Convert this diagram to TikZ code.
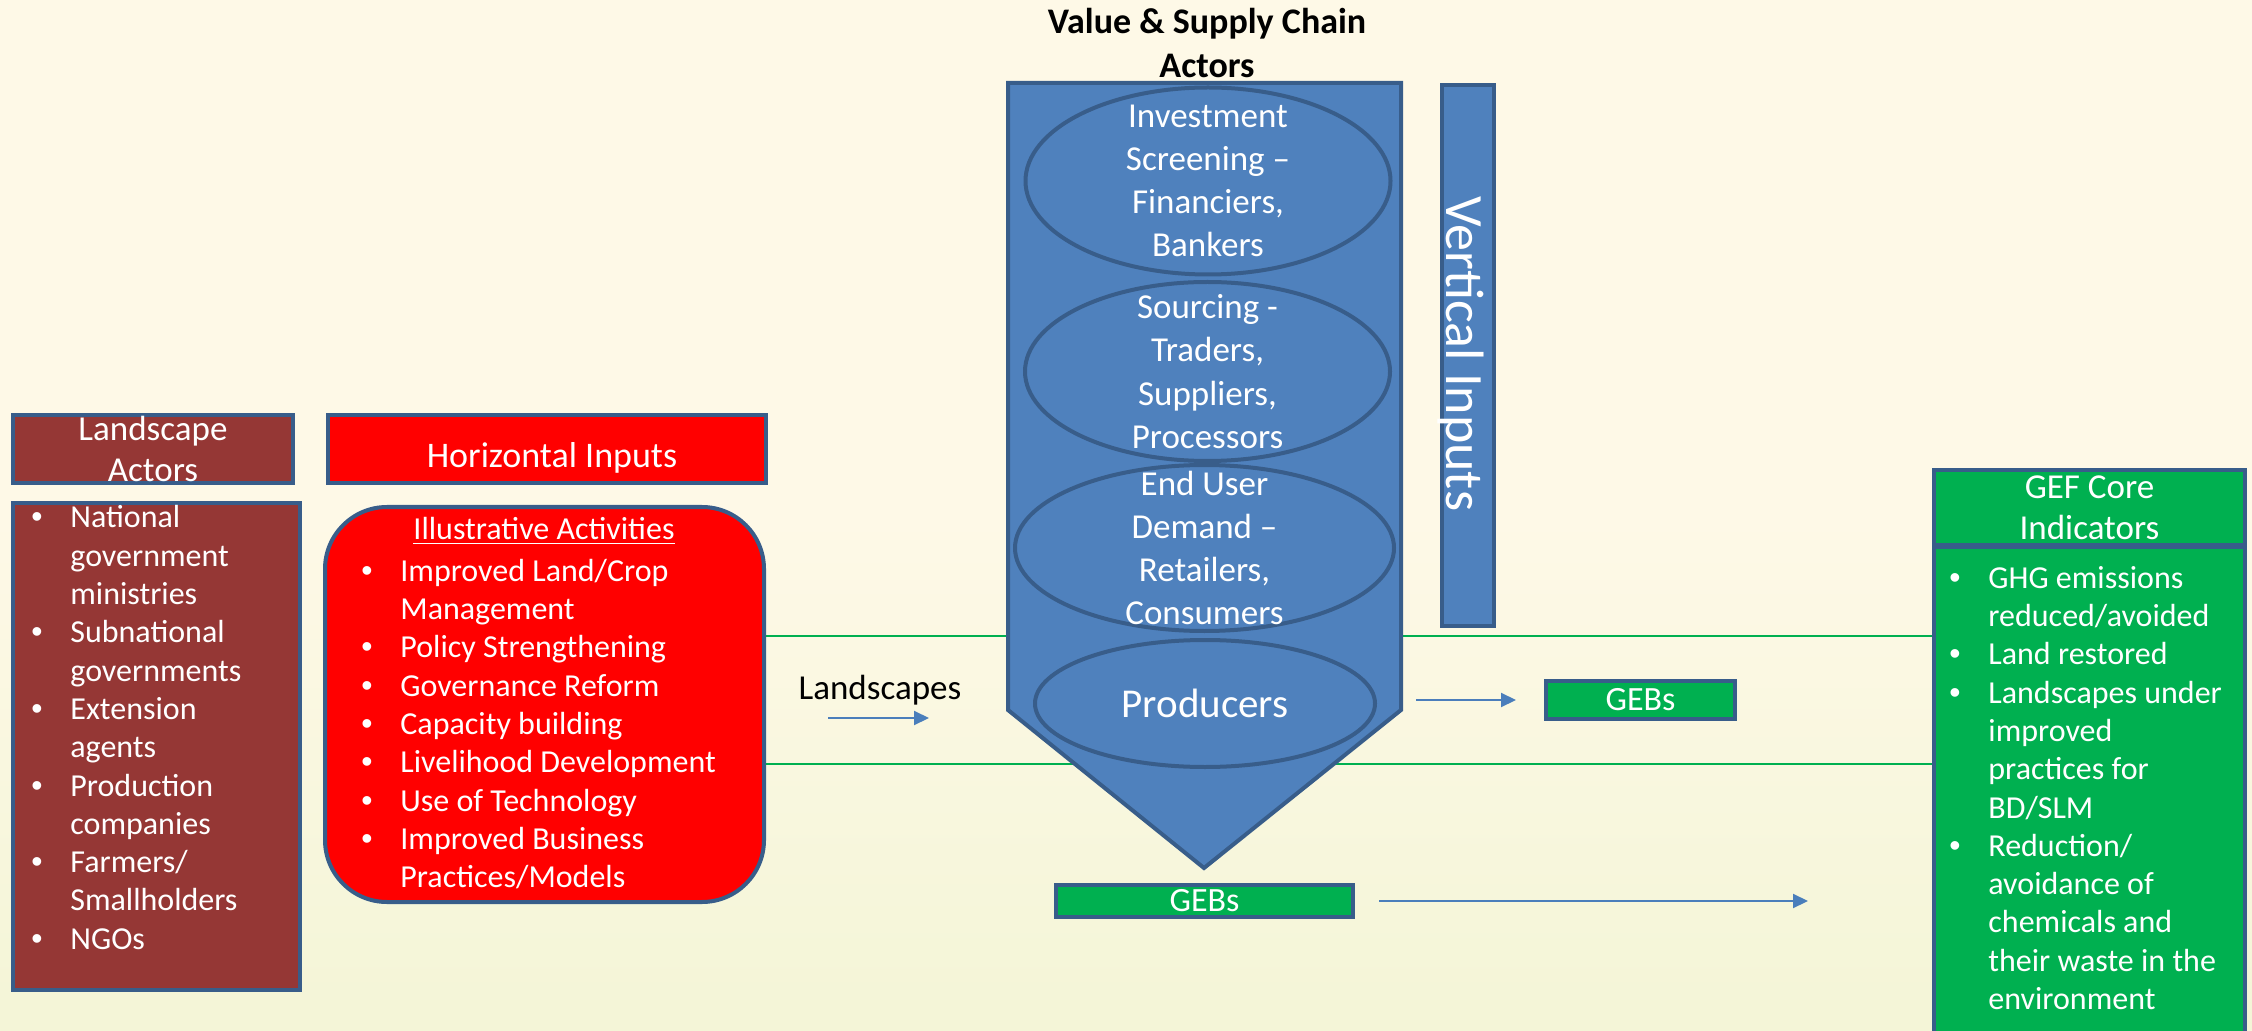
\documentclass[tikz,border=0pt]{standalone}
\usepackage{fontspec}
\setmainfont{Carlito}
\newfontfamily\bulletfont{Liberation Sans}
\usetikzlibrary{shapes.geometric,arrows.meta}

\definecolor{bgtop}{HTML}{FEF9E7}
\definecolor{bgbot}{HTML}{E9F1C6}
\definecolor{chainblue}{HTML}{4F81BD}
\definecolor{edgeblue}{HTML}{385D8A}
\definecolor{flowblue}{HTML}{4A7EBB}
\definecolor{actorred}{HTML}{953735}
\definecolor{inputred}{HTML}{FF0000}
\definecolor{gefgreen}{HTML}{00B050}

\pgfdeclareverticalshading{bgfade}{100bp}{color(0bp)=(bgbot); color(50bp)=(bgtop); color(100bp)=(bgtop)}

\newcommand{\bitem}{\llap{\makebox[17pt][l]{\hspace{-2.5pt}{\bulletfont\textbullet}}}}

\begin{document}
\begin{tikzpicture}[x=0.5pt,y=-0.5pt,
    framebox/.style={draw=edgeblue, line width=2pt, inner sep=0pt},
    actorbox/.style={framebox, fill=actorred},
    inputbox/.style={framebox, fill=inputred},
    gefbox/.style={framebox, fill=gefgreen},
    chainbox/.style={framebox, fill=chainblue},
    stage/.style={ellipse, draw=edgeblue, line width=2pt, fill=chainblue, inner sep=0pt},
    boxtext/.style={text=white, align=center, font=\fontsize{17.5}{20.6}\selectfont},
    stagetext/.style={text=white, align=center, font=\fontsize{17.5}{21.6}\selectfont},
    listtext/.style={text=white, align=left, anchor=west, inner sep=0pt, font=\fontsize{16}{19.15}\selectfont},
    band/.style={draw=gefgreen, line width=1pt},
    flow/.style={draw=flowblue, line width=1pt, -{Triangle[length=7.5pt,width=7pt]}}]

  \useasboundingbox (0,0) rectangle (2252,1031);
  \shade[shading=bgfade] (0,0) rectangle (2252,1031);
  \clip (0,0) rectangle (2252,1031);

  % landscape side
  \node[actorbox, minimum width=140pt, minimum height=34pt] (lahdr) at (153,449) {};
  \node[actorbox, minimum width=143.5pt, minimum height=243.5pt] (lalist) at (156.5,746.5) {};
  \node[inputbox, minimum width=219pt, minimum height=34pt] (hin) at (547,449) {};
  \node[inputbox, rounded corners=31pt, minimum width=219.5pt, minimum height=197.5pt] (illus) at (544.5,704.5) {};

  % indicators side
  \node[gefbox, minimum width=155.5pt, minimum height=249pt] (geflist) at (2089.5,796) {};
  \node[gefbox, minimum width=155.5pt, minimum height=37.5pt] (gefhdr) at (2089.5,507.5) {};
  \node[gefbox, minimum width=94.5pt, minimum height=19pt] (gebsR) at (1640.5,700) {};
  \node[gefbox, minimum width=148.5pt, minimum height=16pt] (gebsB) at (1204.5,901) {};

  % landscape band
  \coordinate (bandtop) at (0,636);
  \coordinate (bandbot) at (0,764);
  \draw[band] (illus.east |- bandtop) -- (geflist.west |- bandtop);
  \draw[band] (illus.east |- bandbot) -- (geflist.west |- bandbot);

  % value chain
  \draw[chainbox] (1008,83) -- (1401,83) -- (1401,710) -- (1204,868) -- (1008,710) -- cycle;
  \node[chainbox, minimum width=26pt, minimum height=270.5pt] (vin) at (1468,355.5) {};
  \node[stage, minimum width=182.5pt, minimum height=93.5pt] (invest) at (1208,181) {};
  \node[stage, minimum width=182.5pt, minimum height=89.5pt] (source) at (1207.5,371.5) {};
  \node[stage, minimum width=189.5pt, minimum height=83pt] (enduser) at (1204.5,548) {};
  \node[stage, minimum width=170pt, minimum height=63.5pt] (prod) at (1205,703.5) {};

  % texts
  \node[font=\bfseries\fontsize{18}{21.6}\selectfont, align=center] (title) at (1207,43) {Value \& Supply Chain\\Actors};
  \node[boxtext] at (lahdr) {Landscape\\Actors};
  \node[boxtext, font=\fontsize{18}{21}\selectfont] at (552,458) {Horizontal Inputs};
  \node[boxtext] at (gefhdr) {GEF Core\\Indicators};
  \node[boxtext, font=\fontsize{17}{20}\selectfont] at (gebsR) {GEBs};
  \node[boxtext, font=\fontsize{17}{20}\selectfont] at (gebsB) {GEBs};
  \node[text=white, rotate=-90, font=\fontsize{27}{32}\selectfont] at (1461,354) {Vertical Inputs};
  \node[stagetext] at (invest) {Investment\\Screening --\\Financiers,\\Bankers};
  \node[stagetext] at (source) {Sourcing -\\Traders,\\Suppliers,\\Processors};
  \node[stagetext] at (enduser) {End User\\Demand --\\Retailers,\\Consumers};
  \node[stagetext, font=\fontsize{20.5}{24}\selectfont] at (prod) {Producers};

  \node[listtext] (laitems) at (70,727.6) {\bitem National\\government\\ministries\\\bitem Subnational\\governments\\\bitem Extension\\agents\\\bitem Production\\companies\\\bitem Farmers/\\Smallholders\\\bitem NGOs};
  \node[text=white, font=\fontsize{16}{19.2}\selectfont] (illtitle) at (544,531) {\underline{Illustrative Activities}};
  \node[listtext] (illitems) at (400,724) {\bitem Improved Land/Crop\\Management\\\bitem Policy Strengthening\\\bitem Governance Reform\\\bitem Capacity building\\\bitem Livelihood Development\\\bitem Use of Technology\\\bitem Improved Business\\Practices/Models};
  \node[listtext] (gefitems) at (1988,788) {\bitem GHG emissions\\reduced/avoided\\\bitem Land restored\\\bitem Landscapes under\\improved\\practices for\\BD/SLM\\\bitem Reduction/\\avoidance of\\chemicals and\\their waste in the\\environment};

  % flows
  \node[font=\fontsize{17.5}{21}\selectfont] (landlbl) at (880,690) {Landscapes};
  \coordinate (landA) at (828,718);
  \coordinate (landB) at (929,718);
  \coordinate (prodout) at (1416,700);
  \coordinate (gefin) at (1808,901);
  \draw[flow] (landA) -- (landB);
  \draw[flow, shorten >=14pt] (prodout) -- (gebsR.west);
  \draw[flow, shorten <=12pt] (gebsB.east) -- (gefin);
\end{tikzpicture}
\end{document}
